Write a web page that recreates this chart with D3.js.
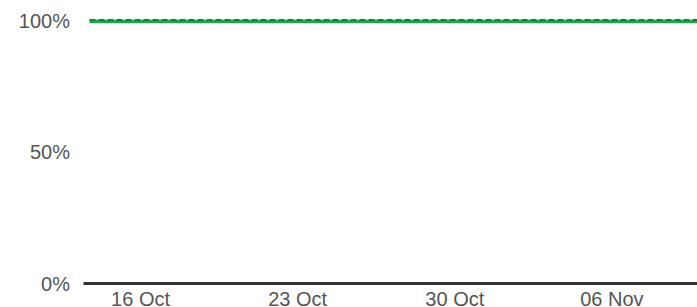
<!DOCTYPE html>
<html>
<head>
<meta charset="utf-8">
<script src="https://cdn.jsdelivr.net/npm/d3@7"></script>
<style>
  body { margin: 0; background: #fff; }
  svg { display: block; font-family: "Liberation Sans", Arial, sans-serif; }
  .tick text { fill: #555; font-size: 20px; }
</style>
</head>
<body>
<svg id="chart" width="697" height="307"></svg>
<script>
// daily samples (taken at 18:00)
const days = d3.timeDay.range(new Date(2017, 9, 13), new Date(2017, 10, 11))
  .map(d => d3.timeHour.offset(d, 18));
const actual = days.map(() => 99.4);   // measured availability
const target = days.map(() => 100);    // target line
const yTicks = [0, 50, 100];

const W = 697, H = 307;
const margin = {top: 20, right: 0, bottom: 24, left: 83};

const svg = d3.select('#chart');

const x = d3.scaleTime()
  .domain([new Date(2017, 9, 13, 11), new Date(2017, 10, 9, 19, 30)])
  .range([margin.left, W - margin.right]);
const y = d3.scaleLinear()
  .domain([0, 100])
  .range([H - margin.bottom, margin.top]);

// y axis: labels only
svg.append('g')
  .attr('transform', `translate(${margin.left - 13},0)`)
  .call(d3.axisLeft(y).tickValues(yTicks).tickSize(0).tickPadding(0).tickFormat(d => d + '%'))
  .call(g => g.select('.domain').remove())
  .call(g => g.selectAll('.tick text').attr('dy', '0.35em'));

// lines
const line = vals => d3.line()
  .x((d, i) => x(days[i]))
  .y(d => y(d))(vals);

svg.append('path')
  .attr('d', line(actual))
  .attr('fill', 'none')
  .attr('stroke', '#1ba84c')
  .attr('stroke-width', 3.5);

svg.append('path')
  .attr('d', line(target))
  .attr('fill', 'none')
  .attr('stroke', '#137f38')
  .attr('stroke-width', 2)
  .attr('stroke-dasharray', '6,3');

// x axis
svg.append('g')
  .attr('transform', `translate(0,${y(0)})`)
  .call(d3.axisBottom(x).ticks(d3.timeMonday.every(1)).tickSize(0).tickSizeOuter(0)
    .tickPadding(9).tickFormat(d3.timeFormat('%d %b')))
  .call(g => g.select('.domain').attr('stroke', '#333').attr('stroke-width', 3));
</script>
</body>
</html>
